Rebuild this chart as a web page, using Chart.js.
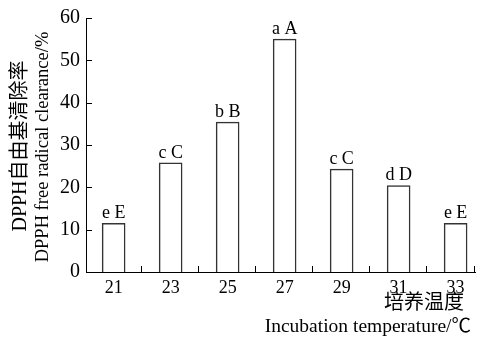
<!DOCTYPE html>
<html>
<head>
<meta charset="utf-8">
<script src="https://cdn.jsdelivr.net/npm/chart.js@4"></script>
<style>
  html, body { margin: 0; padding: 0; background: #fff; }
  #wrap { width: 484px; height: 338px; }
</style>
</head>
<body>
<div id="wrap"><canvas id="myChart" width="484" height="338"></canvas></div>
<script>
var temps = [21, 23, 25, 27, 29, 31, 33];
var clearance = [11.5, 25.8, 35.4, 55.0, 24.3, 20.4, 11.5];
var letters = ["e E", "c C", "b B", "a A", "c C", "d D", "e E"];
var yTicks = [0, 10, 20, 30, 40, 50, 60];
var xMinorTicks = [22, 24, 26, 28, 30, 32];

var serif = "'Liberation Serif', 'Noto Sans CJK SC', serif";

// tick marks pointing into the plot, letters over bars, axis titles
var extras = {
    id: 'extras',
    afterDraw: function (chart) {
        var c = chart.ctx;
        var xs = chart.scales.x, ys = chart.scales.y;
        var a = chart.chartArea;
        c.save();
        c.strokeStyle = '#000';
        c.lineWidth = 1;
        c.beginPath();
        yTicks.forEach(function (v) {
            if (v === 0) return;
            var py = Math.round(ys.getPixelForValue(v)) + 0.5;
            c.moveTo(a.left, py);
            c.lineTo(a.left + 6, py);
        });
        xMinorTicks.concat([xs.max]).forEach(function (v) {
            var px = Math.round(xs.getPixelForValue(v)) - 0.5;
            c.moveTo(px, a.bottom);
            c.lineTo(px, a.bottom - 6);
        });
        c.stroke();

        c.fillStyle = '#000';
        c.font = '18px ' + serif;
        c.textAlign = 'center';
        c.textBaseline = 'bottom';
        chart.getDatasetMeta(0).data.forEach(function (bar, i) {
            c.fillText(letters[i], bar.x, bar.y - 1);
        });

        c.textAlign = 'right';
        c.textBaseline = 'middle';
        c.font = '20px ' + serif;
        c.fillText('培养温度', 464, 304);
        c.font = '19.5px ' + serif;
        c.fillText('Incubation temperature/℃', 471, 327);

        c.save();
        c.translate(21, 146);
        c.rotate(-Math.PI / 2);
        c.textAlign = 'center';
        c.font = '20px ' + serif;
        c.fillText('DPPH自由基清除率', 0, 0);
        c.restore();
        c.save();
        c.translate(43, 147);
        c.rotate(-Math.PI / 2);
        c.textAlign = 'center';
        c.font = '18.5px ' + serif;
        c.fillText('DPPH free radical clearance/%', 0, 0);
        c.restore();
        c.restore();
    }
};

var ctx = document.getElementById('myChart').getContext('2d');
var myChart = new Chart(ctx, {
    type: 'bar',
    data: {
        datasets: [{
            data: temps.map(function (t, i) { return { x: t, y: clearance[i] }; }),
            backgroundColor: '#fff',
            borderColor: '#333',
            borderWidth: 1.5,
            borderSkipped: 'bottom',
            barThickness: 23
        }]
    },
    options: {
        responsive: false,
        animation: false,
        layout: { padding: { top: 16, right: 9, left: 0, bottom: 0 } },
        plugins: { legend: { display: false }, tooltip: { enabled: false } },
        scales: {
            x: {
                type: 'linear',
                offset: false,
                min: 20.03,
                max: 33.68,
                afterBuildTicks: function (s) {
                    s.ticks = temps.map(function (t) { return { value: t }; });
                },
                afterFit: function (s) { s.height = 66; },
                grid: { display: false, drawTicks: false, offset: false },
                border: { display: true, color: '#000', width: 1 },
                ticks: {
                    color: '#000',
                    padding: 5,
                    font: { family: serif, size: 18 }
                }
            },
            y: {
                min: 0,
                max: 60,
                afterBuildTicks: function (s) {
                    s.ticks = yTicks.map(function (t) { return { value: t }; });
                },
                afterFit: function (s) { s.width = 86; },
                grid: { display: false, drawTicks: false },
                border: { display: true, color: '#000', width: 1 },
                ticks: {
                    color: '#000',
                    padding: 6,
                    font: { family: serif, size: 20 }
                }
            }
        }
    },
    plugins: [extras]
});
</script>
</body>
</html>
